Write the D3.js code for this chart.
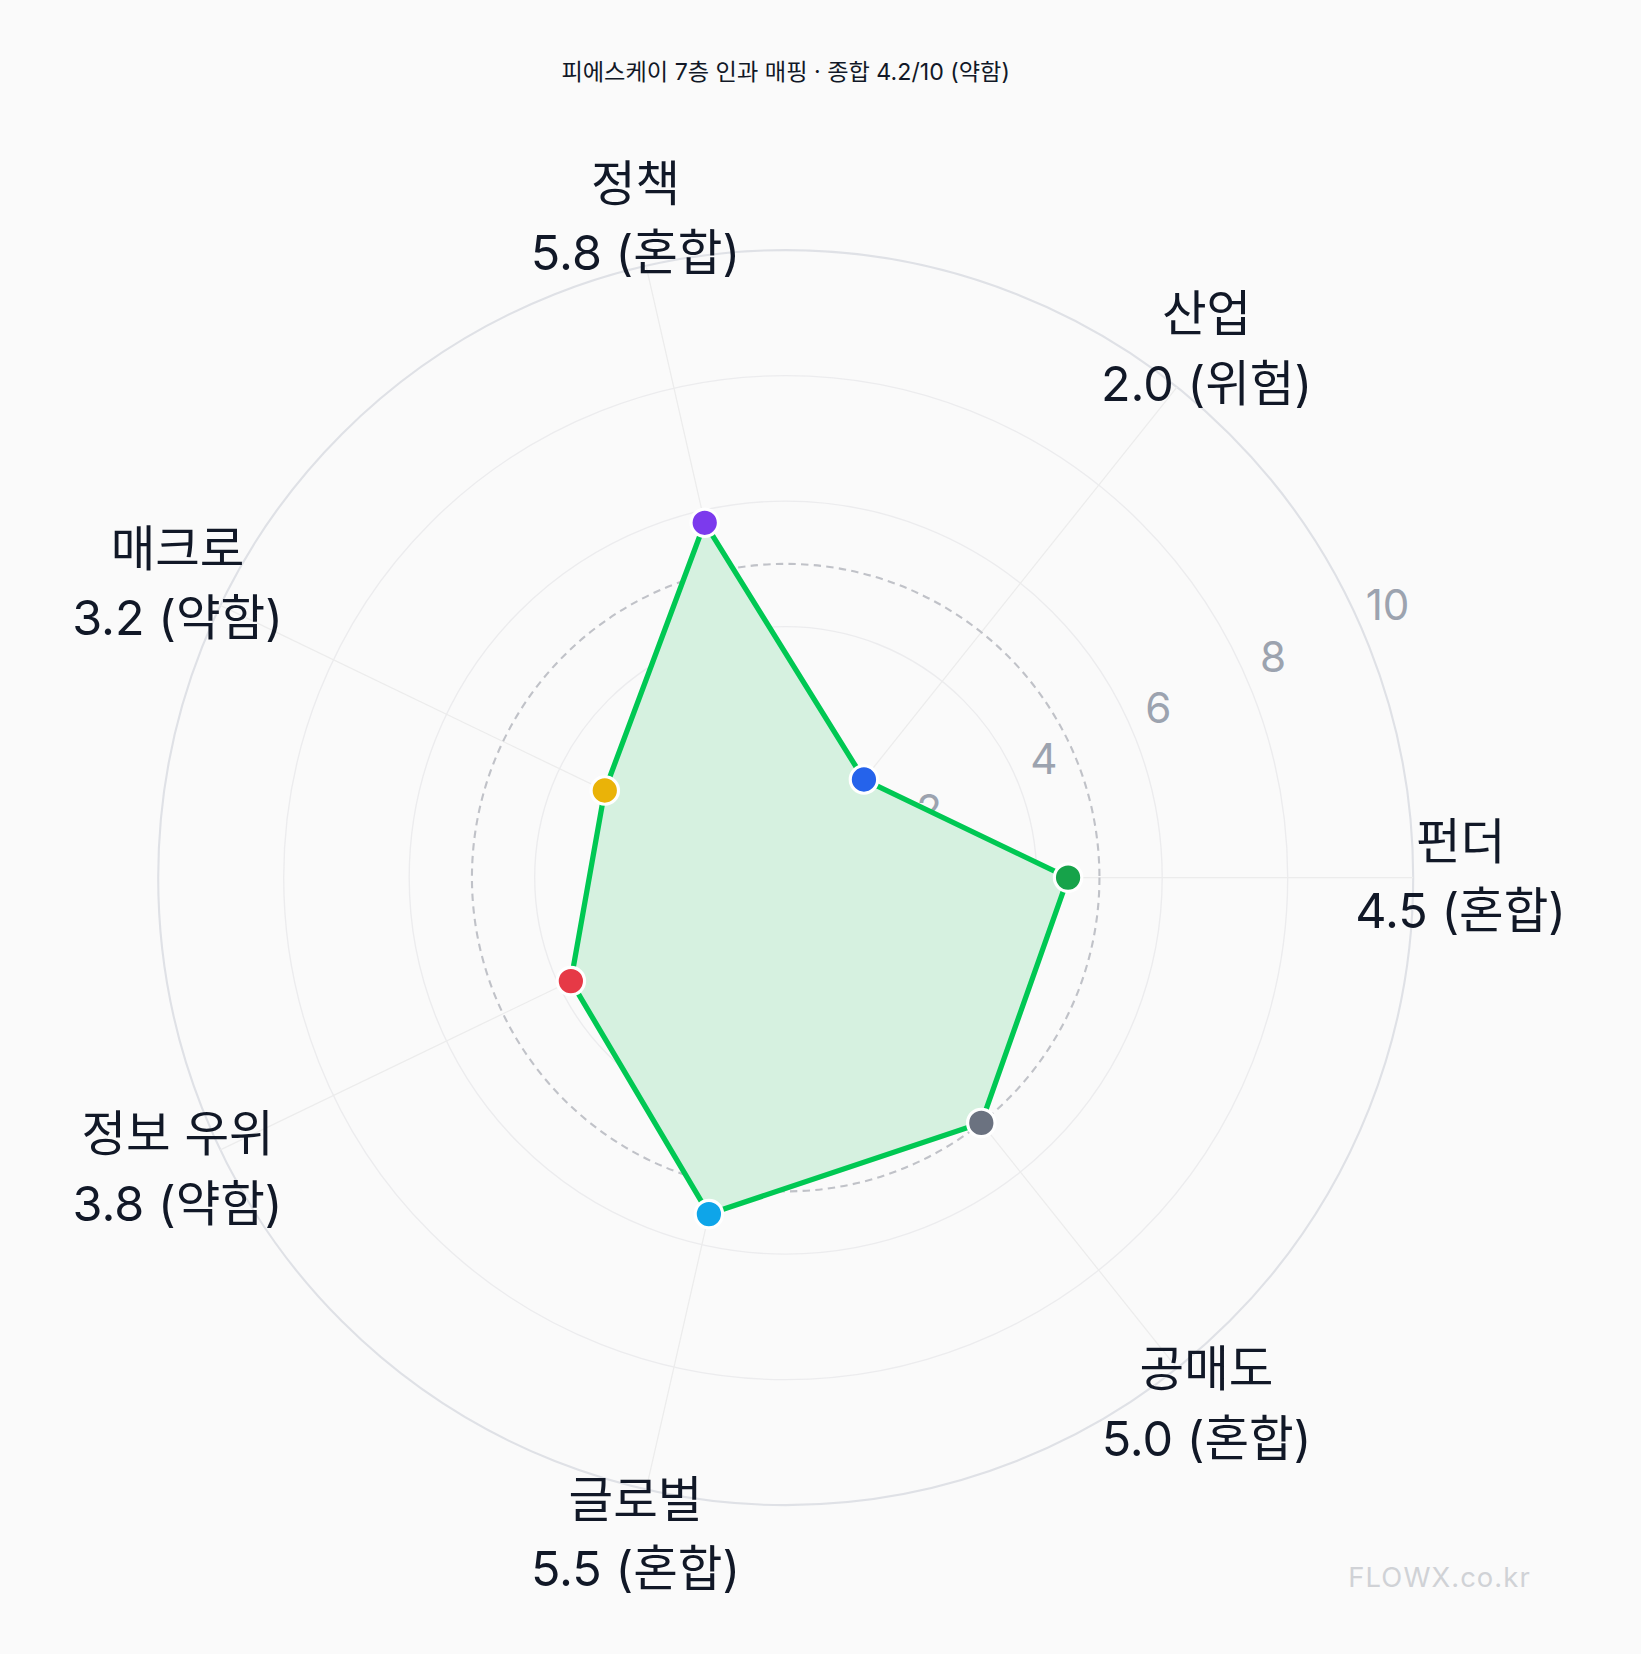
<!DOCTYPE html>
<html><head><meta charset="utf-8">
<script src="https://cdn.jsdelivr.net/npm/d3@7"></script>
<style>body{margin:0;background:#fafafa}svg{display:block}</style>
</head><body>
<svg id="c" width="1641" height="1654" viewBox="0 0 1556 1568"></svg>
<script>
const categories = ["펀더","산업","정책","매크로","정보 우위","글로벌","공매도"];
const values = [4.5,2.0,5.8,3.2,3.8,5.5,5.0];
const grades = ["혼합","위험","혼합","약함","약함","혼합","혼합"];
const pointColors = ["#16a34a","#2563eb","#7c3aed","#eab308","#e63946","#0ea5e9","#6b7280"];
const ticks = [2,4,6,8,10];
const threshold = 5;
const title = "피에스케이 7층 인과 매핑 · 종합 4.2/10 (약함)";

const svg = d3.select("#c");
const cx = 745, cy = 832, R = 595;
const font = "Inter,'Noto Sans CJK KR','Noto Sans',sans-serif";
svg.append("rect").attr("width",1556).attr("height",1568).attr("fill","#fafafa");
const r = d3.scaleLinear().domain([0,10]).range([0,R]);
const ang = i => -i*2*Math.PI/categories.length;
const pt = (i,v) => [cx + r(v)*Math.cos(ang(i)), cy + r(v)*Math.sin(ang(i))];
const g = svg.append("g");
ticks.forEach(t => g.append("circle").attr("cx",cx).attr("cy",cy).attr("r",r(t))
  .attr("fill","none").attr("stroke", t===10?"#dfe1e6":"#ececee").attr("stroke-width", t===10?2:1.3));
categories.forEach((c,i)=>{const [x,y]=pt(i,10);
  g.append("line").attr("x1",cx).attr("y1",cy).attr("x2",x).attr("y2",y).attr("stroke","#ececec").attr("stroke-width",1.2);});
const pts = values.map((v,i)=>pt(i,v));
g.append("path").attr("d", d3.line()(pts)+"Z").attr("fill","#d6f1e0")
  .attr("stroke","#00c853").attr("stroke-width",5).attr("stroke-linejoin","round");
g.append("circle").attr("cx",cx).attr("cy",cy).attr("r",r(threshold)).attr("fill","none")
  .attr("stroke","#c0c2c8").attr("stroke-width",2).attr("stroke-dasharray","7,5");
const ta = -0.42;
ticks.forEach(t => g.append("text").attr("x",cx+(r(t)+30)*Math.cos(ta)).attr("y",cy+(r(t)+30)*Math.sin(ta))
  .attr("text-anchor","middle").attr("dominant-baseline","middle").attr("font-family",font)
  .attr("font-size",40).attr("fill","#9ca3af").text(t));
g.select("path").raise();
pts.forEach((p,i)=>g.append("circle").attr("cx",p[0]).attr("cy",p[1]).attr("r",13)
  .attr("fill",pointColors[i]).attr("stroke","#fff").attr("stroke-width",3));
categories.forEach((c,i)=>{const a=ang(i), lr=640;
  const x=cx+lr*Math.cos(a), y=cy+lr*Math.sin(a);
  const t=g.append("text").attr("text-anchor","middle").attr("font-family",font).attr("font-size",46).attr("fill","#111827");
  t.append("tspan").attr("x",x).attr("y",y-18).text(c);
  t.append("tspan").attr("x",x).attr("y",y+48).text(values[i].toFixed(1)+" ("+grades[i]+")");
});
svg.append("text").attr("x",745).attr("y",76).attr("text-anchor","middle").attr("font-family",font)
  .attr("font-size",22).attr("fill","#111827").text(title);
svg.append("text").attr("x",1365).attr("y",1505).attr("text-anchor","middle").attr("font-family","Inter,sans-serif")
  .attr("font-size",26).attr("fill","#d0d2d6").attr("letter-spacing",1).text("FLOWX.co.kr");
</script></body></html>
